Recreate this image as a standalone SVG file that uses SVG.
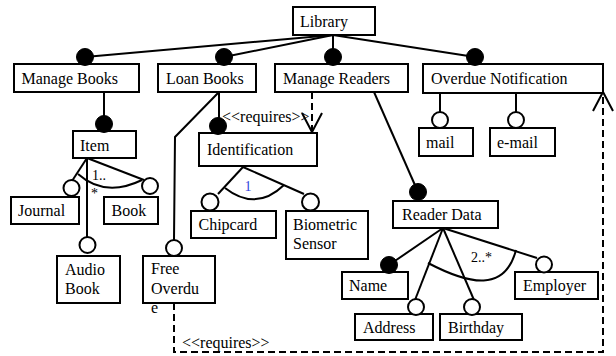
<svg xmlns="http://www.w3.org/2000/svg" width="616" height="356" viewBox="0 0 616 356">
<style>
.box{fill:#fff;stroke:#000;stroke-width:2}
.t{font-family:"Liberation Serif","Times New Roman",serif;font-size:16px;fill:#000}
.s{font-family:"Liberation Serif","Times New Roman",serif;font-size:14px;fill:#000}
.ln{fill:none;stroke:#000;stroke-width:2}
.dash{fill:none;stroke:#000;stroke-width:2;stroke-dasharray:7 4}
.full{fill:#000;stroke:#000;stroke-width:1}
.open{fill:#fff;stroke:#000;stroke-width:2}
</style>
<defs>
<marker id="arr" markerUnits="userSpaceOnUse" markerWidth="26" markerHeight="26" viewBox="-22 -13 26 26" refX="0" refY="0" orient="auto">
<path d="M-19,-10 L0,0 L-19,10" fill="none" stroke="#000" stroke-width="2" stroke-dasharray="none"/>
</marker>
</defs>
<rect width="616" height="356" fill="#fff"/>
<g id="connectors">
<path class="ln" d="M333,35 L85,57"/>
<path class="ln" d="M333,35 L224,57"/>
<path class="ln" d="M333,35 L333,57"/>
<path class="ln" d="M333,35 L475,57"/>
<path class="ln" d="M104,92 L104,124"/>
<path class="ln" d="M219,92 L219,126"/>
<path class="ln" d="M219,92 L175,137 L174,240"/>
<path class="ln" d="M374,92 L418,192"/>
<path class="ln" d="M440,93 L440,112"/>
<path class="ln" d="M516,93 L516,112"/>
<path class="ln" d="M87,158 L72,181"/>
<path class="ln" d="M87,158 L144,180"/>
<path class="ln" d="M87,158 L87,237"/>
<path class="ln" d="M78,174 Q105,198 142,180"/>
<path class="ln" d="M243,167 L218,194"/>
<path class="ln" d="M243,167 L304,194"/>
<path class="ln" d="M225,188 Q256,212 284,185"/>
<path class="ln" d="M443,228 L389,265"/>
<path class="ln" d="M443,228 L415,300"/>
<path class="ln" d="M443,228 L474,300"/>
<path class="ln" d="M443,228 L537,258"/>
<path class="ln" d="M428,263 C470,285 505,292 516,250"/>
<path class="dash" d="M312,92 L312,132" marker-end="url(#arr)"/>
<path class="dash" d="M174,303 L174,352 L603,352 L603,92" marker-end="url(#arr)"/>
<text class="t" x="222" y="122" fill="#222">&lt;&lt;requires&gt;&gt;</text>
<text class="t" x="182" y="348" fill="#222">&lt;&lt;requires&gt;&gt;</text>
<text class="s" x="92" y="180">1..</text>
<text class="s" x="91" y="198">*</text>
<text class="s" x="248" y="191" text-anchor="middle" style="fill:#3344dd">1</text>
<text class="s" x="471" y="262">2..*</text>
</g>
<g id="library"><rect class="box" x="293" y="7" width="82" height="28"/><text class="t" x="300" y="26.5">Library</text></g>
<g id="manage-books"><rect class="box" x="14" y="64" width="125" height="28"/><circle class="full" cx="85" cy="57" r="8.5"/><text class="t" x="21.5" y="84">Manage Books</text></g>
<g id="loan-books"><rect class="box" x="158" y="64" width="98" height="28"/><circle class="full" cx="224" cy="57" r="8.5"/><text class="t" x="166" y="84">Loan Books</text></g>
<g id="manage-readers"><rect class="box" x="275" y="64" width="133" height="28"/><circle class="full" cx="333" cy="57" r="8.5"/><text class="t" x="283" y="84">Manage Readers</text></g>
<g id="overdue-notification"><rect class="box" x="423" y="64" width="180" height="29"/><circle class="full" cx="475" cy="57" r="8.5"/><text class="t" x="431" y="84">Overdue Notification</text></g>
<g id="mail"><rect class="box" x="419" y="128" width="54" height="28"/><circle class="open" cx="440" cy="120" r="8"/><text class="t" x="426" y="148">mail</text></g>
<g id="e-mail"><rect class="box" x="490" y="128" width="65" height="28"/><circle class="open" cx="516" cy="120" r="8"/><text class="t" x="497" y="148">e-mail</text></g>
<g id="item"><rect class="box" x="73" y="131" width="63" height="27"/><circle class="full" cx="104" cy="124" r="8.5"/><text class="t" x="80" y="150.5">Item</text></g>
<g id="identification"><rect class="box" x="199" y="133" width="118" height="33"/><circle class="full" cx="218" cy="126" r="8.5"/><text class="t" x="207" y="155">Identification</text></g>
<g id="journal"><rect class="box" x="11" y="197" width="68" height="27"/><circle class="open" cx="71.5" cy="188" r="8"/><text class="t" x="18" y="216">Journal</text></g>
<g id="book"><rect class="box" x="104" y="197" width="54" height="27"/><circle class="open" cx="150" cy="186" r="8"/><text class="t" x="111.5" y="216">Book</text></g>
<g id="audio-book"><rect class="box" x="57" y="256" width="63" height="47"/><circle class="open" cx="87.5" cy="245" r="8"/><text class="t" x="65" y="275">Audio</text><text class="t" x="65" y="294">Book</text></g>
<g id="free-overdue"><rect class="box" x="143" y="256" width="72" height="47"/><circle class="open" cx="174" cy="248" r="8"/><text class="t" x="151" y="274">Free</text><text class="t" x="151" y="293.5">Overdu</text><text class="t" x="151" y="313">e</text></g>
<g id="chipcard"><rect class="box" x="191" y="211" width="85" height="27"/><circle class="open" cx="210" cy="202" r="8.5"/><text class="t" x="198.5" y="230">Chipcard</text></g>
<g id="biometric-sensor"><rect class="box" x="286" y="211" width="82" height="48"/><circle class="open" cx="310.5" cy="202" r="8.5"/><text class="t" x="293" y="230">Biometric</text><text class="t" x="293" y="249">Sensor</text></g>
<g id="reader-data"><rect class="box" x="393" y="201" width="105" height="27"/><circle class="full" cx="418" cy="192" r="8.5"/><text class="t" x="402" y="220">Reader Data</text></g>
<g id="name"><rect class="box" x="342" y="272" width="66" height="27"/><circle class="full" cx="389" cy="265" r="8.5"/><text class="t" x="349" y="291">Name</text></g>
<g id="address"><rect class="box" x="355" y="314" width="78" height="26"/><circle class="open" cx="416" cy="307" r="8"/><text class="t" x="363" y="333">Address</text></g>
<g id="birthday"><rect class="box" x="440" y="314" width="82" height="26"/><circle class="open" cx="472" cy="307" r="8"/><text class="t" x="448" y="333">Birthday</text></g>
<g id="employer"><rect class="box" x="515" y="272" width="83" height="27"/><circle class="open" cx="544" cy="264.5" r="8"/><text class="t" x="523" y="291">Employer</text></g>
</svg>
